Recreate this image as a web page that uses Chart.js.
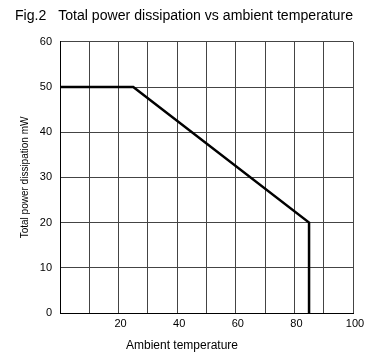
<!DOCTYPE html>
<html>
<head>
<meta charset="utf-8">
<script src="https://cdn.jsdelivr.net/npm/chart.js@4"></script>
<style>
  html, body { margin: 0; padding: 0; background: #fff; }
  #wrap { width: 368px; height: 356px; }
</style>
</head>
<body>
<div id="wrap"><canvas id="chart" width="368" height="356"></canvas></div>
<script>
// derating curve
const ambientTemp = [0, 25, 85, 85];
const powerMw = [50, 50, 20, 0];
const xLabelTicks = [20, 40, 60, 80, 100];

const FONT = 'Liberation Sans, Arial, sans-serif';

// x title sits a bit left of centre in the original
const xTitlePlugin = {
  id: 'xTitle',
  afterDraw(chart) {
    const ctx = chart.ctx;
    ctx.save();
    ctx.font = '12px ' + FONT;
    ctx.fillStyle = '#000';
    ctx.textAlign = 'center';
    ctx.textBaseline = 'middle';
    ctx.fillText('Ambient temperature', 182, 346);
    ctx.restore();
  }
};

new Chart(document.getElementById('chart'), {
  type: 'scatter',
  data: {
    datasets: [{
      data: ambientTemp.map((t, i) => ({ x: t, y: powerMw[i] })),
      showLine: true,
      borderColor: '#000',
      borderWidth: 2.5,
      pointRadius: 0,
      tension: 0
    }]
  },
  options: {
    responsive: false,
    animation: false,
    layout: { padding: { left: 15, right: 15, top: 0, bottom: 0 } },
    plugins: {
      legend: { display: false },
      tooltip: { enabled: false },
      title: {
        display: true,
        text: 'Fig.2   Total power dissipation vs ambient temperature',
        align: 'start',
        color: '#000',
        font: { family: FONT, size: 14.9, weight: 'normal' },
        padding: { top: 7, bottom: 17 }
      }
    },
    scales: {
      x: {
        type: 'linear',
        min: 0,
        max: 100,
        afterFit: s => { s.height = 43; s.paddingLeft = 0; s.paddingRight = 0; },
        border: { color: '#000', width: 1 },
        grid: { color: '#444', lineWidth: 1, drawTicks: false },
        ticks: {
          stepSize: 10,
          padding: 4,
          labelOffset: 2,
          color: '#000',
          font: { family: FONT, size: 11 },
          maxRotation: 0,
          autoSkip: false,
          callback: v => xLabelTicks.includes(v) ? v : ''
        }
      },
      y: {
        min: 0,
        max: 60,
        afterFit: s => { s.width = 45; s.paddingTop = 0; s.paddingBottom = 0; },
        border: { color: '#000', width: 1 },
        grid: { color: '#444', lineWidth: 1, drawTicks: false },
        ticks: {
          stepSize: 10,
          padding: 8,
          color: '#000',
          font: { family: FONT, size: 11 }
        },
        title: {
          display: true,
          text: 'Total power dissipation mW',
          color: '#000',
          font: { family: FONT, size: 10 },
          padding: { top: 4, bottom: 0 }
        }
      }
    }
  },
  plugins: [xTitlePlugin]
});
</script>
</body>
</html>
